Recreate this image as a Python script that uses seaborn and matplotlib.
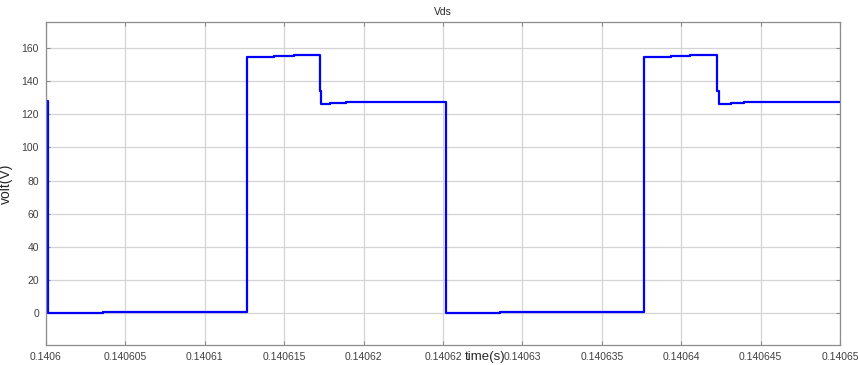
import matplotlib
matplotlib.use("Agg")
import matplotlib.pyplot as plt
import pandas as pd
import seaborn as sns

# Drain-source voltage of the switch over two switching periods (step samples)
time_s = [
    0.14060000, 0.14060015, 0.14060357, 0.14060885, 0.14061263, 0.14061433,
    0.14061559, 0.14061723, 0.14061734, 0.14061790, 0.14061887, 0.14062045,
    0.14062518, 0.14062858, 0.14063388, 0.14063768, 0.14063936, 0.14064056,
    0.14064224, 0.14064237, 0.14064315, 0.14064395, 0.14064548, 0.14065000,
]
vds_v = [
    128.0, 0.0, 0.4, 0.9, 154.6, 155.2,
    155.7, 134.0, 126.2, 126.6, 127.2, 127.7,
    0.0, 0.4, 0.9, 154.6, 155.2, 155.7,
    134.0, 126.2, 126.7, 127.2, 127.7, 127.7,
]

x_ticks = [0.1406, 0.140605, 0.14061, 0.140615, 0.14062, 0.140625,
           0.14063, 0.140635, 0.14064, 0.140645, 0.14065]
x_tick_labels = ["0.1406", "0.140605", "0.14061", "0.140615", "0.14062", "0.14062",
                 "0.14063", "0.140635", "0.14064", "0.140645", "0.14065"]
y_ticks = [0, 20, 40, 60, 80, 100, 120, 140, 160]

df = pd.DataFrame({"time": time_s, "vds": vds_v})

sns.set_style("whitegrid")
plt.rcParams["font.family"] = ["Liberation Sans", "DejaVu Sans"]

fig = plt.figure(figsize=(8.58, 3.65), dpi=100)
ax = fig.add_axes([46 / 858, 20 / 365, 794 / 858, 323 / 365])

sns.lineplot(data=df, x="time", y="vds", ax=ax, color="#0000ff", linewidth=1.6,
             drawstyle="steps-post", estimator=None, sort=False)

ax.set_xlim(0.1406, 0.14065)
ax.set_ylim(-19.3, 175.7)
ax.set_xticks(x_ticks)
ax.set_xticklabels(x_tick_labels)
ax.set_yticks(y_ticks)

ax.grid(True, color="#d4d4d4", linewidth=0.9)
for side in ax.spines.values():
    side.set_visible(True)
    side.set_color("#8c8c8c")
    side.set_linewidth(0.9)

ax.tick_params(axis="both", which="both", direction="in", length=3,
               color="#8c8c8c", labelsize=7.5, labelcolor="#404040",
               top=True, right=True, bottom=True, left=True,
               labeltop=False, labelright=False, pad=5)

ax.set_title("Vds", fontsize=7.5, color="#262626", pad=5)
ax.set_ylabel("volt(V)", fontsize=10, color="#262626")
ax.yaxis.set_label_coords(-0.042, 0.5)
ax.set_xlabel("time(s)", fontsize=9.5, color="#262626")
ax.xaxis.set_label_coords(0.553, -0.02)

fig.savefig("out.png", dpi=100)
